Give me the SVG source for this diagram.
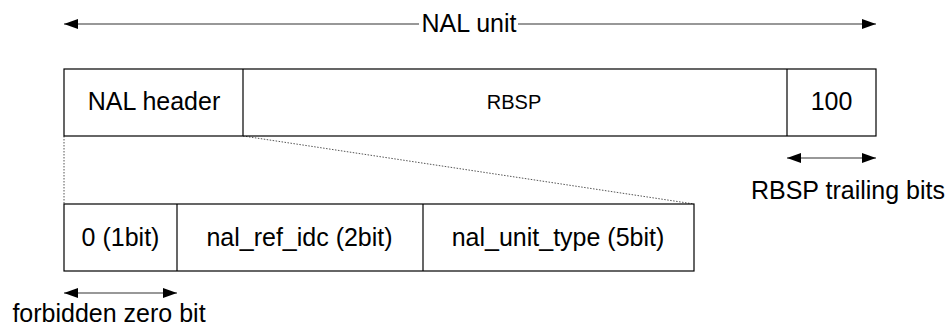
<svg xmlns="http://www.w3.org/2000/svg" width="950" height="326" viewBox="0 0 950 326">
<defs>
<marker id="ah" viewBox="0 0 14 10" refX="14" refY="5" markerWidth="14" markerHeight="10" markerUnits="userSpaceOnUse" orient="auto-start-reverse">
<path d="M0,0 L14,5 L0,10 Z" fill="#000"/>
</marker>
<style>
.box{fill:#fff;stroke:#000;stroke-width:1.2}
.div{stroke:#000;stroke-width:1.2}
.t{font-family:"Liberation Sans",Arial,sans-serif;font-size:25px;fill:#000;text-anchor:middle}
.s{font-size:20px}
.arr{stroke:#333;stroke-width:1.2;fill:none;marker-start:url(#ah);marker-end:url(#ah)}
.ln{stroke:#333;stroke-width:1.2;fill:none}
.dot{stroke:#555;stroke-width:1;stroke-dasharray:1.5 1.5;fill:none}
</style>
</defs>
<rect width="950" height="326" fill="#fff"/>
<g id="connectors">
<line class="ln" x1="64" y1="24" x2="419" y2="24" marker-start="url(#ah)"/>
<line class="ln" x1="518" y1="24" x2="876" y2="24" marker-end="url(#ah)"/>
<line class="dot" x1="64" y1="136" x2="64" y2="204"/>
<line class="dot" x1="243" y1="136" x2="694" y2="204"/>
<line class="arr" x1="787" y1="158" x2="876" y2="158"/>
<line class="arr" x1="64" y1="293" x2="177" y2="293"/>
</g>
<g id="nal-unit-label"><text class="t" x="469" y="32">NAL unit</text></g>
<g id="nal-unit">
<rect class="box" x="64" y="69" width="812" height="67"/>
<line class="div" x1="243" y1="69" x2="243" y2="136"/>
<line class="div" x1="787" y1="69" x2="787" y2="136"/>
</g>
<g id="nal-header"><text class="t" x="154" y="110">NAL header</text></g>
<g id="rbsp"><text class="t s" x="514" y="109">RBSP</text></g>
<g id="trailing"><text class="t" x="831.5" y="110">100</text></g>
<g id="trailing-label"><text class="t" x="848" y="199">RBSP trailing bits</text></g>
<g id="header-fields">
<rect class="box" x="64" y="204" width="630" height="67"/>
<line class="div" x1="177" y1="204" x2="177" y2="271"/>
<line class="div" x1="423" y1="204" x2="423" y2="271"/>
</g>
<g id="forbidden"><text class="t" x="120.5" y="246">0 (1bit)</text></g>
<g id="ref-idc"><text class="t" x="299.5" y="246">nal_ref_idc (2bit)</text></g>
<g id="unit-type"><text class="t" x="558" y="246">nal_unit_type (5bit)</text></g>
<g id="forbidden-label"><text class="t" x="109" y="322">forbidden zero bit</text></g>
</svg>
